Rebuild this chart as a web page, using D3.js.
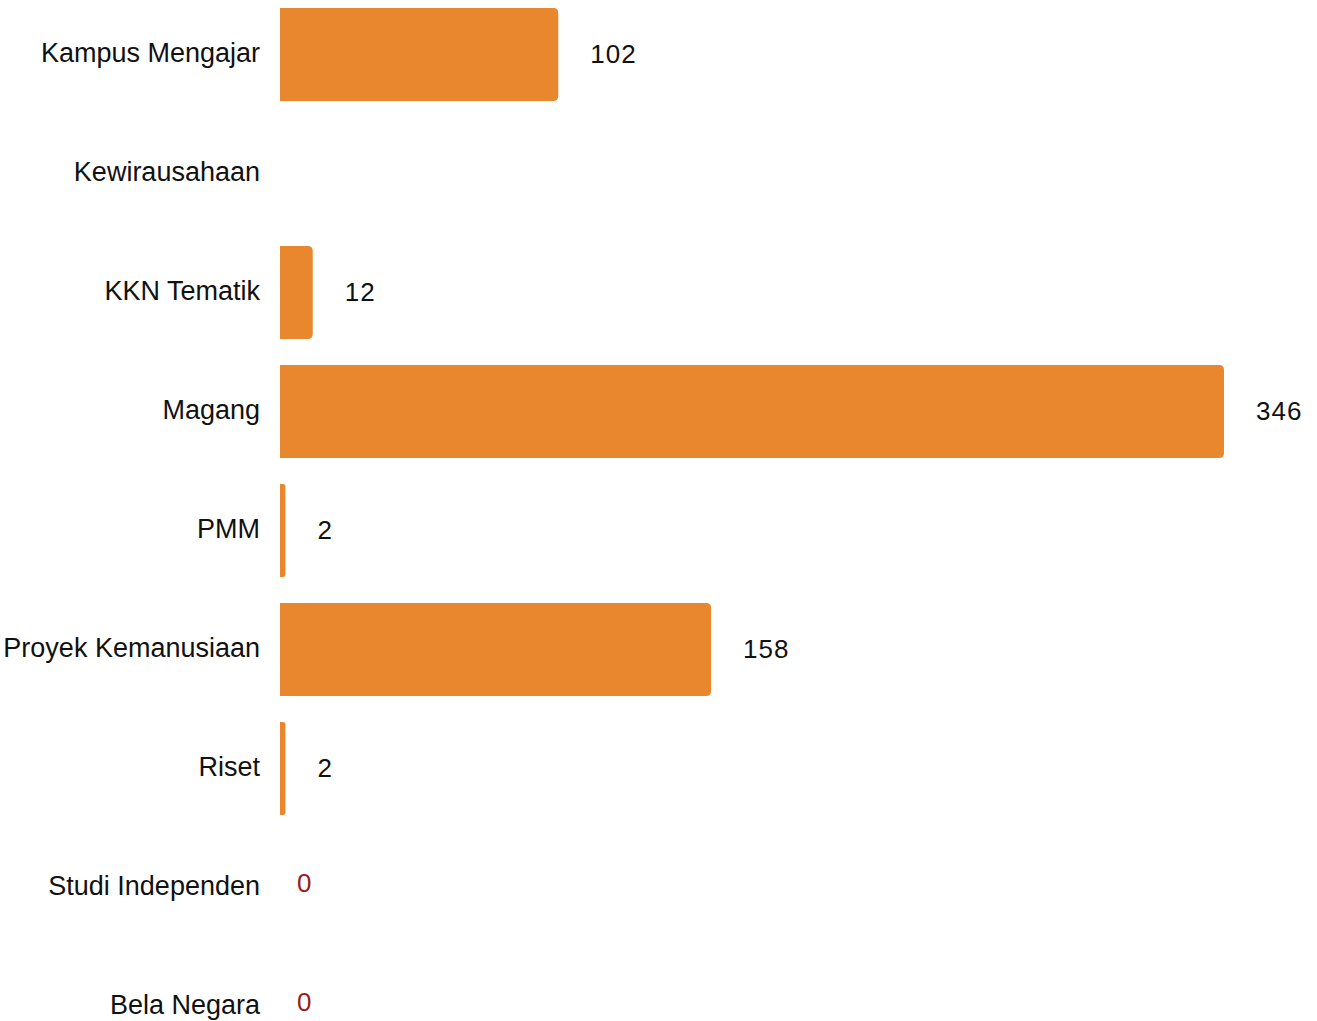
<!DOCTYPE html>
<html>
<head>
<meta charset="utf-8">
<script src="https://cdn.jsdelivr.net/npm/d3@7"></script>
<style>
  body { margin: 0; background: #fff; }
  svg { display: block; }
  text { font-family: "Liberation Sans", Arial, sans-serif; }
</style>
</head>
<body>
<svg></svg>
<script>
var categories = ["Kampus Mengajar", "Kewirausahaan", "KKN Tematik", "Magang", "PMM",
                  "Proyek Kemanusiaan", "Riset", "Studi Independen", "Bela Negara"];
var values = [102, null, 12, 346, 2, 158, 2, 0, 0];

var chartWidth = 1317, chartHeight = 1021;
var left = 280, right = 1224;

var svg = d3.select("svg").attr("width", chartWidth).attr("height", chartHeight);

var xScale = d3.scaleLinear().domain([0, d3.max(values)]).range([left, right]);
var yScale = d3.scaleBand().domain(categories).range([-5, 1066])
  .paddingInner(26 / 119).paddingOuter(13 / 119);

var rows = categories.map(function(c, i) { return { cat: c, v: values[i] }; });

// right-rounded bar path
function barPath(d) {
  var x0 = xScale(0), x1 = xScale(d.v), y0 = yScale(d.cat), h = yScale.bandwidth();
  var r = Math.min(5, (x1 - x0) / 2);
  return "M" + x0 + "," + y0 + "H" + (x1 - r) + "Q" + x1 + "," + y0 + " " + x1 + "," + (y0 + r) +
    "V" + (y0 + h - r) + "Q" + x1 + "," + (y0 + h) + " " + (x1 - r) + "," + (y0 + h) + "H" + x0 + "Z";
}

svg.selectAll("path.bar")
  .data(rows.filter(function(d) { return d.v > 0; }))
  .enter().append("path")
  .attr("class", "bar")
  .attr("d", barPath)
  .attr("fill", "#E8872D");

svg.selectAll("text.cat")
  .data(rows)
  .enter().append("text")
  .attr("class", "cat")
  .attr("x", 260)
  .attr("y", function(d) { return yScale(d.cat) + yScale.bandwidth() / 2 - 2; })
  .attr("dy", "0.35em")
  .attr("text-anchor", "end")
  .attr("font-size", 27)
  .attr("fill", "#111")
  .text(function(d) { return d.cat; });

svg.selectAll("text.val")
  .data(rows.filter(function(d) { return d.v != null; }))
  .enter().append("text")
  .attr("class", "val")
  .attr("x", function(d) { return d.v === 0 ? xScale(0) + 17 : xScale(d.v) + 32; })
  .attr("y", function(d) { return yScale(d.cat) + yScale.bandwidth() / 2 + (d.v === 0 ? -5 : -1); })
  .attr("dy", "0.35em")
  .attr("font-size", 26)
  .attr("letter-spacing", 1)
  .attr("fill", function(d) { return d.v === 0 ? "#9B1B1B" : "#111"; })
  .text(function(d) { return d.v; });
</script>
</body>
</html>
